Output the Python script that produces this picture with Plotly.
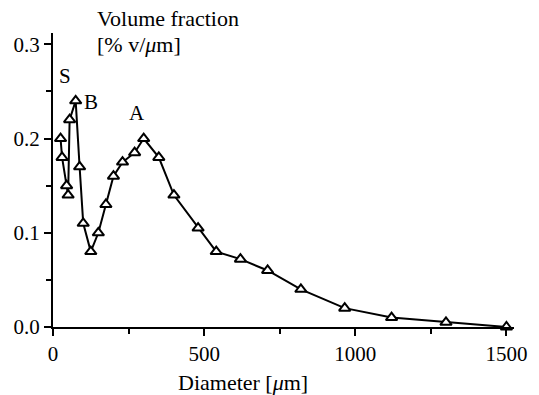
import plotly.graph_objects as go

# ---- data ----
diameter = [25, 30, 45, 50, 55, 75, 88, 100, 125, 150, 175, 200, 230, 270, 300,
            350, 400, 480, 540, 620, 710, 820, 965, 1120, 1300, 1500]
volume_fraction = [0.20, 0.18, 0.15, 0.14, 0.22, 0.24, 0.17, 0.11, 0.08, 0.10,
                   0.13, 0.16, 0.175, 0.185, 0.20, 0.18, 0.14, 0.105, 0.08,
                   0.072, 0.06, 0.04, 0.02, 0.01, 0.005, 0.0]

peak_labels = ["S", "B", "A"]
peak_label_x = [39, 127, 279]
peak_label_y = [0.266, 0.239, 0.227]

x_ticks = [0, 500, 1000, 1500]
y_ticks = [0.0, 0.1, 0.2, 0.3]

FONT = "Liberation Serif, Times New Roman, serif"

fig = go.Figure()
fig.add_trace(go.Scatter(
    x=diameter, y=volume_fraction, mode="lines+markers",
    line=dict(color="black", width=2),
    marker=dict(symbol="triangle-up", size=10, color="white",
                line=dict(color="black", width=2)),
    cliponaxis=False, showlegend=False,
))

for t, lx, ly in zip(peak_labels, peak_label_x, peak_label_y):
    fig.add_annotation(x=lx, y=ly, xref="x", yref="y", text=t, showarrow=False,
                       font=dict(family=FONT, size=21, color="black"))

W, H = 539, 395
L, R, T, B = 53, 21, 33, 68
pw, ph = W - L - R, H - T - B

def px_to_paper_x(px):
    return (px - L) / pw

def px_to_paper_y(py):
    return (H - B - py) / ph

fig.add_annotation(x=px_to_paper_x(95), y=px_to_paper_y(19), xref="paper", yref="paper",
                   xanchor="left", yanchor="middle", text="Volume fraction", showarrow=False,
                   font=dict(family=FONT, size=22, color="black"))
fig.add_annotation(x=px_to_paper_x(95), y=px_to_paper_y(44), xref="paper", yref="paper",
                   xanchor="left", yanchor="middle", text="[% v/<i>μ</i>m]", showarrow=False,
                   font=dict(family=FONT, size=22, color="black"))
fig.add_annotation(x=px_to_paper_x(245), y=px_to_paper_y(382), xref="paper", yref="paper",
                   xanchor="center", yanchor="middle", text="Diameter [<i>μ</i>m]", showarrow=False,
                   font=dict(family=FONT, size=22, color="black"))

axis_common = dict(showline=True, linewidth=2, linecolor="black", showgrid=False,
                   zeroline=False, ticks="outside", ticklen=7, tickwidth=2,
                   tickcolor="black", tickfont=dict(family=FONT, size=21, color="black"))

fig.update_xaxes(range=[0, 1525], tickvals=x_ticks, ticktext=[str(v) for v in x_ticks],
                 minor=dict(tickvals=[250, 750, 1250], ticks="outside", ticklen=5,
                            tickwidth=2, tickcolor="black"),
                 **axis_common)
fig.update_yaxes(range=[0, 0.312], tickvals=y_ticks, ticktext=[f"{v:.1f}" for v in y_ticks],
                 minor=dict(tickvals=[0.05, 0.15, 0.25], ticks="outside", ticklen=5,
                            tickwidth=2, tickcolor="black"),
                 **axis_common)

fig.update_layout(width=W, height=H, margin=dict(l=L, r=R, t=T, b=B),
                  paper_bgcolor="white", plot_bgcolor="white",
                  font=dict(family=FONT, color="black"))

fig.write_html("out.html")
